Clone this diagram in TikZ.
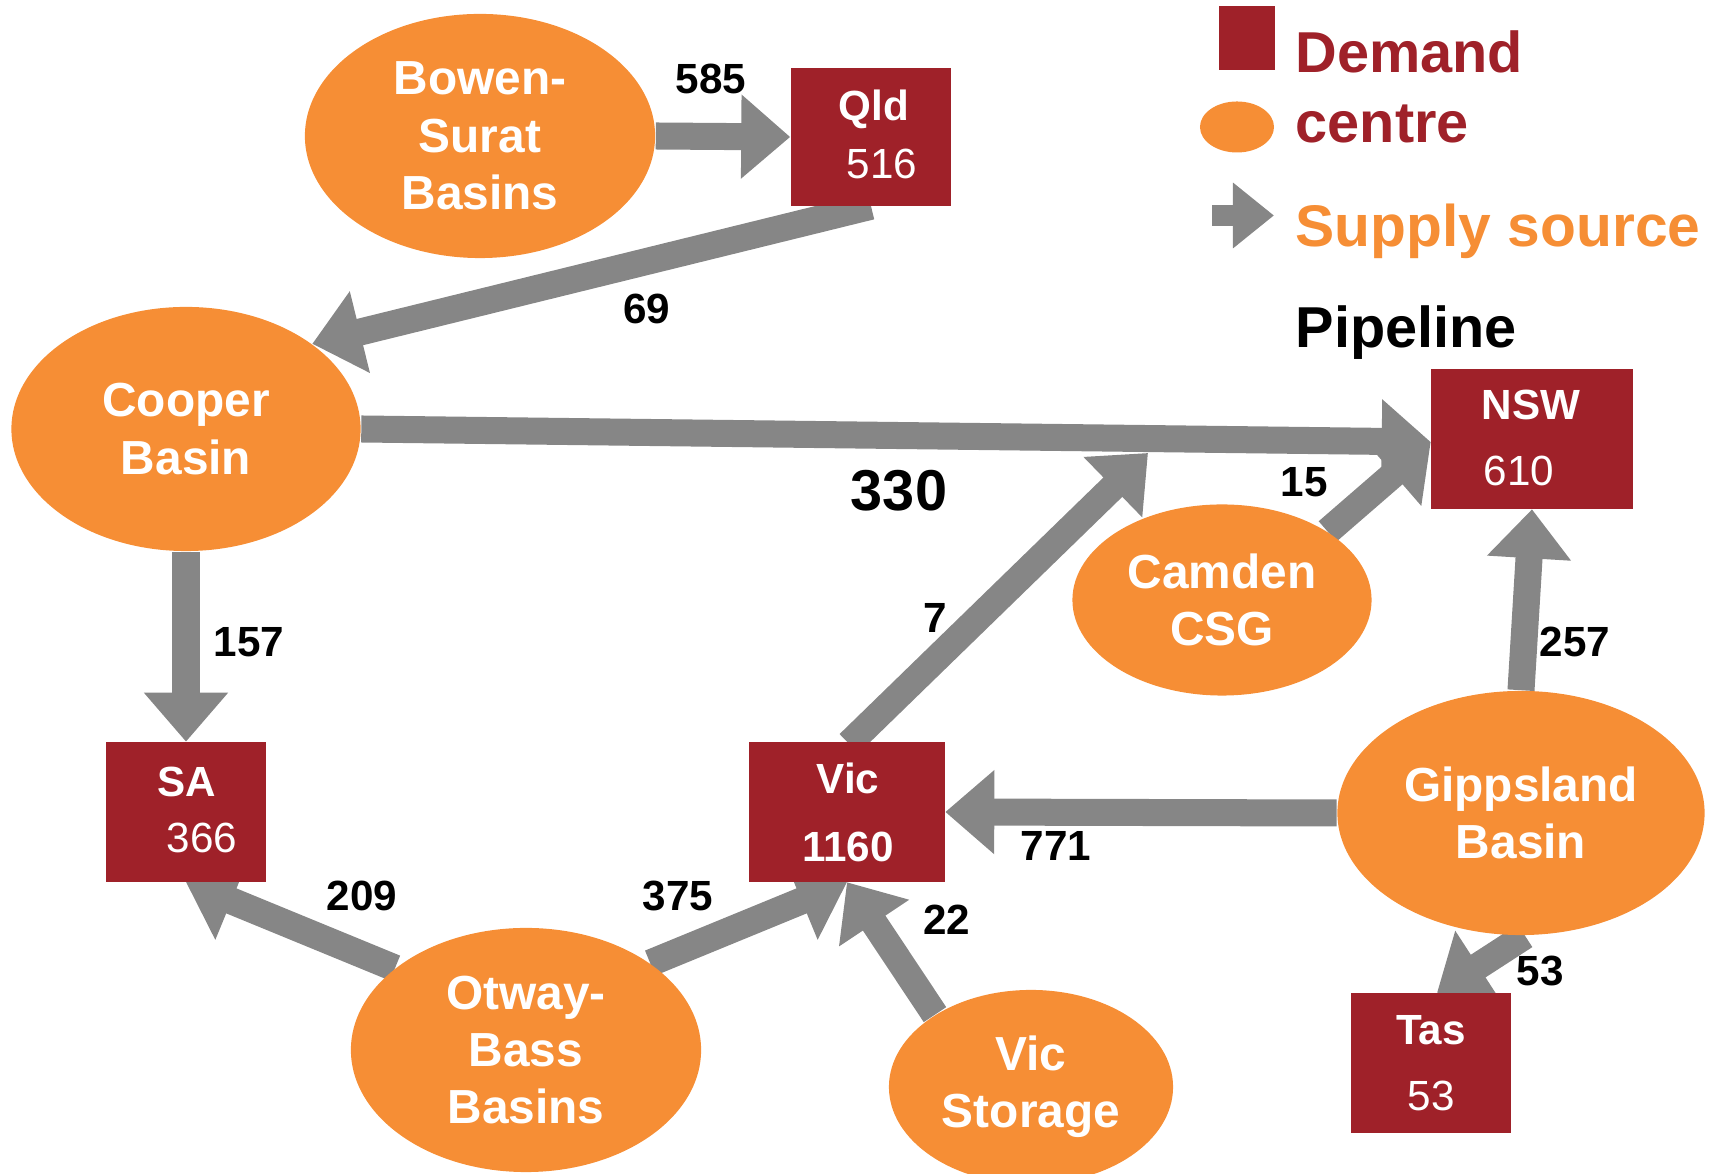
\documentclass[tikz,border=0pt]{standalone}
\usepackage{fontspec}
\setmainfont{Liberation Sans}
\usetikzlibrary{arrows.meta,shapes.geometric,backgrounds,calc}
\definecolor{dred}{HTML}{9F2129}
\definecolor{sorange}{HTML}{F68E35}
\definecolor{agray}{HTML}{868686}
\tikzset{
 demand/.style={fill=dred, draw=none, rectangle, inner sep=0pt},
 supply/.style={fill=sorange, draw=none, ellipse, inner sep=0pt, text=white, align=center, font=\fontsize{13.6pt}{16.3pt}\selectfont\bfseries},
 boxtitle/.style={text=white, font=\fontsize{12pt}{14pt}\selectfont\bfseries, anchor=base, inner sep=0pt},
 boxnum/.style={text=white, font=\fontsize{12pt}{14pt}\selectfont, anchor=base, inner sep=0pt},
 flow/.style={agray, line width=0.27cm, -{Triangle[length=0.49cm,width=0.81cm]}},
 flowlab/.style={font=\fontsize{12pt}{14pt}\selectfont\bfseries, inner sep=0pt},
 legtext/.style={font=\fontsize{16.4pt}{19pt}\selectfont\bfseries, anchor=base west, inner sep=0pt},
}
\begin{document}
\begin{tikzpicture}[x=0.01cm,y=-0.01cm]
\useasboundingbox (0,0) rectangle (1711,1174);
% nodes
\node[supply, minimum width=3.5cm, minimum height=2.44cm] (bowen) at (480,136) {Bowen-\\Surat\\Basins};
\node[demand, minimum width=1.6cm, minimum height=1.37cm] (qld) at (871,137) {};
\node[supply, minimum width=3.49cm, minimum height=2.44cm] (cooper) at (186,429) {Cooper\\Basin};
\node[demand, minimum width=2.01cm, minimum height=1.39cm] (nsw) at (1532,439) {};
\node[supply, minimum width=2.99cm, minimum height=1.91cm] (camden) at (1222,600) {Camden\\CSG};
\node[supply, minimum width=3.67cm, minimum height=2.44cm] (gipps) at (1521,813) {Gippsland\\Basin};
\node[demand, minimum width=1.6cm, minimum height=1.39cm] (sa) at (186,812) {};
\node[demand, minimum width=1.95cm, minimum height=1.39cm] (vic) at (847,812) {};
\node[supply, minimum width=3.5cm, minimum height=2.44cm] (otway) at (526,1050) {Otway-\\Bass\\Basins};
\node[supply, minimum width=2.84cm, minimum height=1.94cm] (vicst) at (1031,1087) {Vic\\Storage};
\node[demand, minimum width=1.6cm, minimum height=1.39cm] (tas) at (1431,1063) {};
% box texts
\node[boxtitle] (qldt) at (874,121) {Qld};
\node[boxnum] (qldn) at (882,179) {516};
\node[boxtitle] (nswt) at (1531,420) {NSW};
\node[boxnum] (nswn) at (1519,486) {610};
\node[boxtitle] (sat) at (187,797) {SA};
\node[boxnum] (san) at (202,853) {366};
\node[boxtitle] (vict) at (848,794) {Vic};
\node[boxtitle] (vicn) at (848,862) {1160};
\node[boxtitle] (tast) at (1431,1045) {Tas};
\node[boxnum] (tasn) at (1431,1111) {53};
% flows
\coordinate (j7) at (1148,453);
\begin{scope}[on background layer]
\draw[flow] (bowen.east) -- (qld.west);
\draw[flow] (qld.south) -- (cooper.34);
\draw[flow] (cooper.east) -- ($(nsw.west)+(0,3)$);
\draw[flow] (cooper.south) -- (sa.north);
\draw[flow] ($(vic.north)+(2,2)$) -- (j7);
\draw[flow] (camden.33) -- ($(nsw.west)+(0,3)$);
\draw[flow] (gipps.north) -- (nsw.south);
\draw[flow] (gipps.west) -- (vic.east);
\draw[flow] ($(gipps.south)+(4,0)$) -- ($(tas.north)+(6,0)$);
\draw[flow] (otway.148) -- (sa.south);
\draw[flow] (otway.35) -- (vic.south);
\draw[flow] (vicst.143) -- (vic.south);
\end{scope}
% flow labels
\node[flowlab] (l585) at (711,79) {585};
\node[flowlab] (l69) at (647,309) {69};
\node[flowlab, font=\fontsize{16.4pt}{19pt}\selectfont\bfseries] (l330) at (899,491) {330};
\node[flowlab] (l15) at (1304,482) {15};
\node[flowlab] (l7) at (935,618) {7};
\node[flowlab] (l157) at (249,642) {157};
\node[flowlab] (l257) at (1575,642) {257};
\node[flowlab] (l771) at (1056,846) {771};
\node[flowlab] (l209) at (362,896) {209};
\node[flowlab] (l375) at (678,896) {375};
\node[flowlab] (l22) at (947,920) {22};
\node[flowlab] (l53) at (1540,971) {53};
% legend
\node[demand, minimum width=0.56cm, minimum height=0.64cm] (legbox) at (1247,38) {};
\node[supply, minimum width=0.74cm, minimum height=0.51cm] (legell) at (1237,127) {};
\coordinate (la) at (1212,215.5);
\coordinate (lb) at (1274,215.5);
\draw[agray, line width=0.21cm, -{Triangle[length=0.41cm,width=0.63cm]}] (la) -- (lb);
\node[legtext, text=dred] (ld) at (1295,73) {Demand};
\node[legtext, text=dred] (lc) at (1295,143) {centre};
\node[legtext, text=sorange, font=\fontsize{16.7pt}{19pt}\selectfont\bfseries] (ls) at (1295,247) {Supply source};
\node[legtext] (lp) at (1295,348) {Pipeline};
\end{tikzpicture}
\end{document}
